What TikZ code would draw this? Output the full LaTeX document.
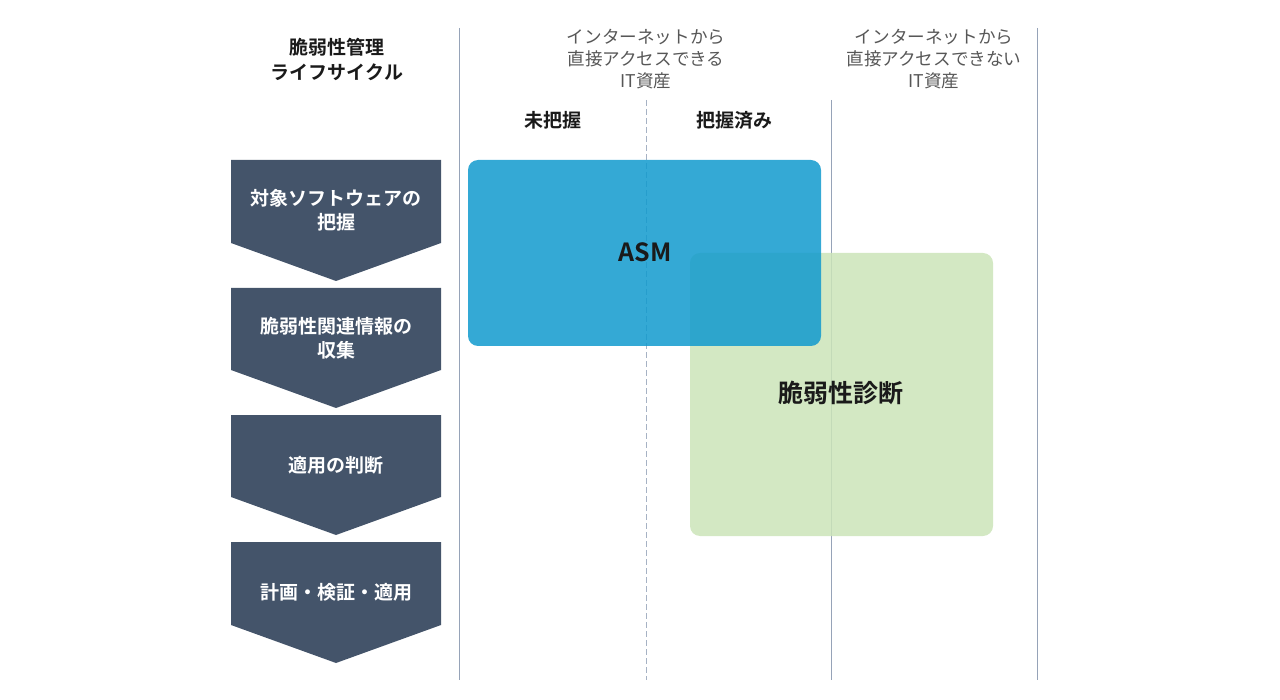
\documentclass[tikz,border=0pt]{standalone}
\usepackage{fontspec}
\setmainfont{Noto Sans CJK JP}[BoldFont={Noto Sans CJK JP Bold}]
\usepackage{tikz}
\usetikzlibrary{positioning}
\definecolor{slate}{HTML}{44546A}
\definecolor{asmblue}{HTML}{109ACE}
\definecolor{diaggreen}{HTML}{CBE4B8}
\definecolor{divcolor}{HTML}{96A3B8}
\definecolor{dashcolor}{HTML}{A6B2C4}
\definecolor{ink}{HTML}{1A1A1A}

\begin{document}
\begin{tikzpicture}[
  x=0.5pt, y=-0.5pt,
  head/.style={font=\bfseries\fontsize{9.5}{12.5}\selectfont, align=center,
               text=ink, inner sep=0pt},
  colhead/.style={font=\fontsize{8.8}{10.8}\selectfont, align=center,
                  text=black!66, inner sep=0pt},
  subhead/.style={font=\bfseries\fontsize{9.5}{12}\selectfont, text=ink, inner sep=0pt},
  steptext/.style={font=\bfseries\fontsize{9.5}{12}\selectfont, align=center,
                   text=white, inner sep=0pt},
  chev/.style={fill=slate},
  zone/.style={rounded corners=5pt, fill opacity=0.85},
  big/.style={font=\bfseries\fontsize{12.5}{15}\selectfont, text=ink, inner sep=0pt},
  divider/.style={draw=divcolor, line width=0.5pt},
  dashdiv/.style={draw=dashcolor, line width=0.5pt, dash pattern=on 3pt off 1.5pt}
]
\useasboundingbox (0,0) rectangle (1280,700);

% column dividers
\draw[divider] (459,28) -- (459,680);
\draw[divider] (1037,28) -- (1037,680);
\draw[divider] (831,100) -- (831,680);
\draw[dashdiv] (646,100) -- (646,680);

% headers
\node[head] (title) at (337,59) {脆弱性管理\\ライフサイクル};
\node[colhead] (direct) at (646,59) {インターネットから\\直接アクセスできる\\IT資産};
\node[colhead] (indirect) at (934,59) {インターネットから\\直接アクセスできない\\IT資産};
\node[subhead] (unknown) at (553,120) {未把握};
\node[subhead] (known) at (734,120) {把握済み};

% lifecycle steps
\fill[chev] (231,160) -- (441,160) -- (441,243) -- (336,281) -- (231,243) -- cycle;
\fill[chev] (231,288) -- (441,288) -- (441,370) -- (336,408) -- (231,370) -- cycle;
\fill[chev] (231,415) -- (441,415) -- (441,497) -- (336,535) -- (231,497) -- cycle;
\fill[chev] (231,542) -- (441,542) -- (441,625) -- (336,663) -- (231,625) -- cycle;
\node[steptext] (s1) at (336,210) {対象ソフトウェアの\\把握};
\node[steptext] (s2) at (336,338) {脆弱性関連情報の\\収集};
\node[steptext] (s3) at (336,465) {適用の判断};
\node[steptext] (s4) at (336,592) {計画・検証・適用};

% coverage areas
\fill[zone, diaggreen] (690,253) rectangle (993,536);
\fill[zone, asmblue] (468,160) rectangle (821,346);
\node[big] (asm) at (645,252) {ASM};
\node[big] (diag) at (841,393) {脆弱性診断};
\end{tikzpicture}
\end{document}
